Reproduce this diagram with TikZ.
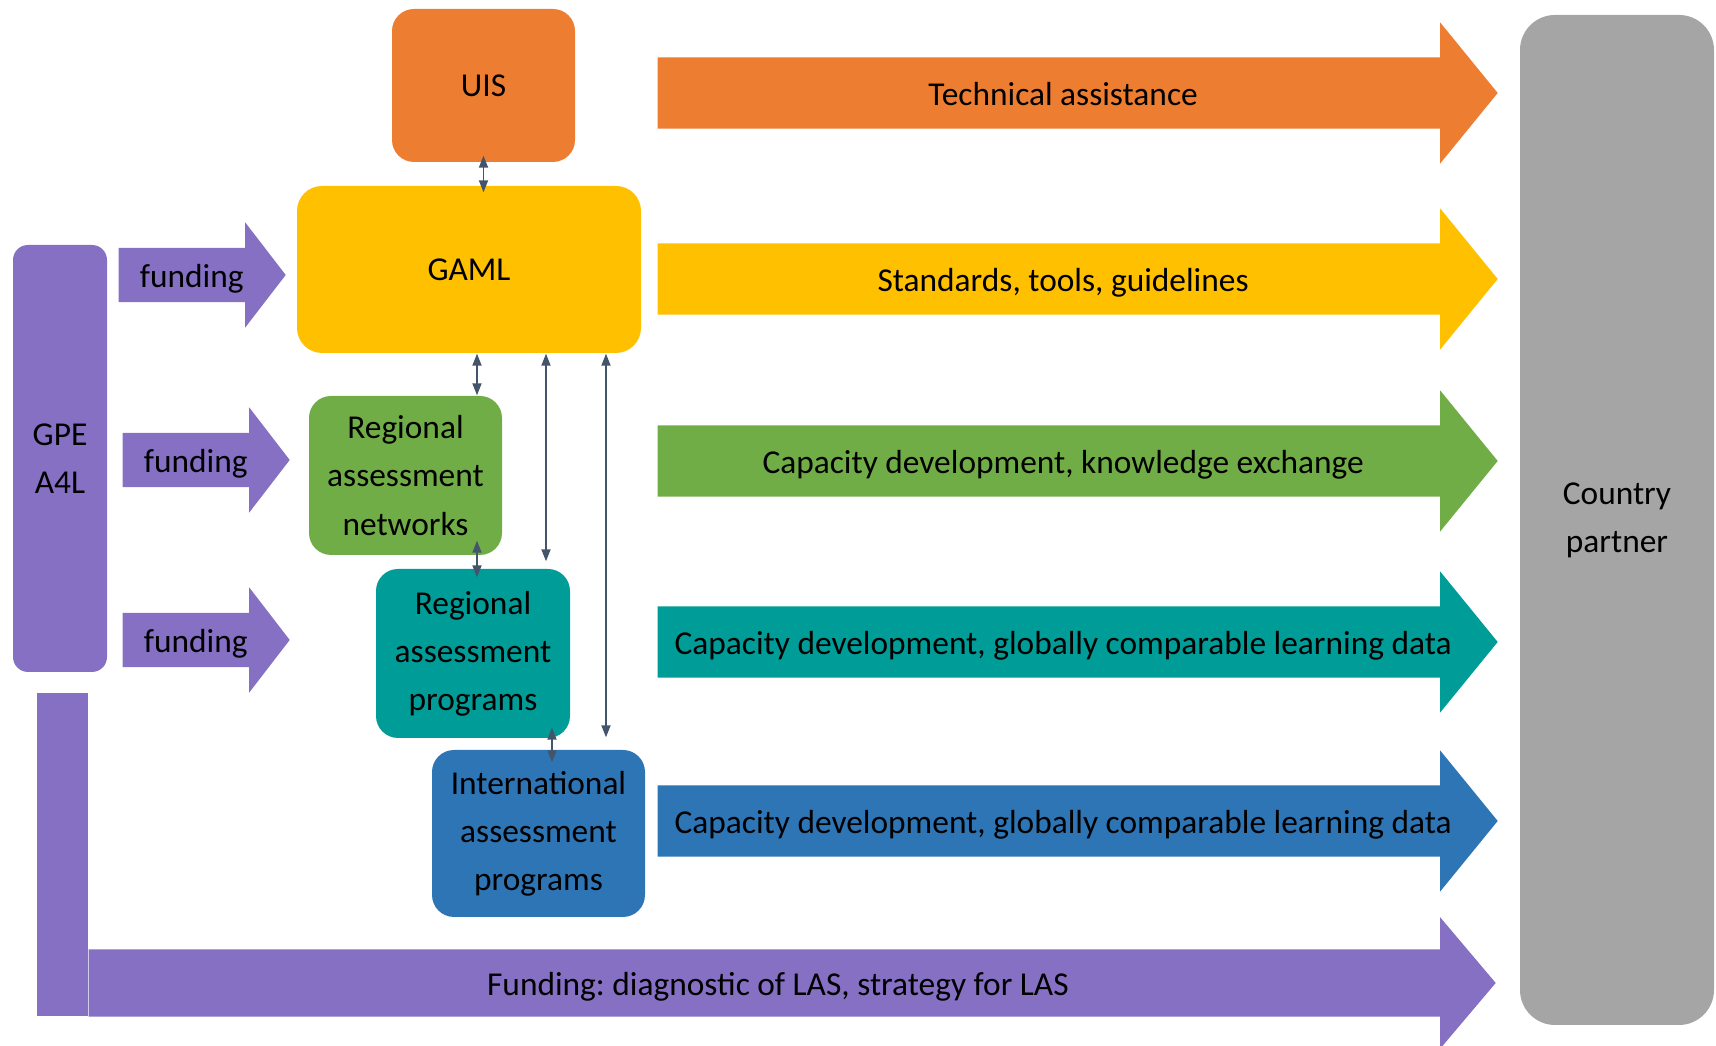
\documentclass[tikz,border=0pt]{standalone}
\usepackage{fontspec}
\setmainfont{Carlito}
\usepackage{tikz}
\usetikzlibrary{shapes.arrows, arrows.meta}
\frenchspacing

\definecolor{uisorange}{HTML}{ED7D31}
\definecolor{gamlgold}{HTML}{FFC000}
\definecolor{rangreen}{HTML}{70AD47}
\definecolor{rapteal}{HTML}{009C97}
\definecolor{iapblue}{HTML}{2E75B6}
\definecolor{gpepurple}{HTML}{8670C4}
\definecolor{partnergray}{HTML}{A5A5A5}
\definecolor{linkgray}{HTML}{44546A}

\begin{document}
\begin{tikzpicture}[every node/.style={font=\fontsize{9.5}{13.7}\selectfont},
        box/.style={rectangle, rounded corners=0.22cm, align=center, inner sep=0pt},
        flow/.style={single arrow, anchor=tail, text height=0.29cm, text depth=0.03cm, inner ysep=0.19cm, inner xsep=0pt, minimum width=1.40cm, minimum height=8.40cm, single arrow head extend=0.35cm, single arrow tip angle=101.6},
        fund/.style={single arrow, anchor=tail, fill=gpepurple, text height=0.29cm, text depth=0.03cm, inner ysep=0.105cm, inner xsep=0pt, minimum width=1.04cm, minimum height=1.67cm, single arrow head extend=0.255cm, single arrow tip angle=104.8},
        link/.style={draw=linkgray, line width=0.5pt, {Triangle[length=0.12cm, width=0.09cm]}-{Triangle[length=0.12cm, width=0.09cm]}}]
        \useasboundingbox (0,0) rectangle (17.16,10.46);

        % actors
        \node[box, fill=uisorange, minimum width=1.83cm, minimum height=1.53cm] (uis) at (4.835,9.605) {UIS};
        \node[box, fill=gamlgold, rounded corners=0.25cm, minimum width=3.44cm, minimum height=1.67cm] (gaml) at (4.69,7.765) {GAML};
        \node[box, fill=rangreen, minimum width=1.93cm, minimum height=1.59cm] (ran) at (4.055,5.705) {Regional\\assessment\\networks};
        \node[box, fill=rapteal, minimum width=1.94cm, minimum height=1.69cm] (rap) at (4.73,3.925) {Regional\\assessment\\programs};
        \node[box, fill=iapblue, minimum width=2.13cm, minimum height=1.67cm] (iap) at (5.385,2.125) {International\\assessment\\programs};
        \node[box, fill=gpepurple, rounded corners=0.15cm, minimum width=0.94cm, minimum height=4.27cm] (gpe) at (0.60,5.875) {GPE\\A4L};
        \node[box, fill=partnergray, rounded corners=0.35cm, minimum width=1.94cm, minimum height=10.10cm] (partner) at (16.17,5.26) {Country\\partner};

        % funding from GPE
        \node[fund] (fund1) at (1.18,7.71) {funding};
        \node[fund] (fund2) at (1.22,5.86) {funding};
        \node[fund] (fund3) at (1.22,4.06) {funding};

        % support flowing to the country partner
        \node[flow, fill=uisorange] (tech) at (6.57,9.53) {Technical assistance};
        \node[flow, fill=gamlgold] (tools) at (6.57,7.67) {Standards, tools, guidelines};
        \node[flow, fill=rangreen] (exchange) at (6.57,5.85) {Capacity development, knowledge exchange};
        \node[flow, fill=rapteal] (regdata) at (6.57,4.04) {Capacity development, globally comparable learning data};
        \node[flow, fill=iapblue] (intdata) at (6.57,2.25) {Capacity development, globally comparable learning data};

        \fill[gpepurple] (0.37,3.53) rectangle (0.88,0.30);
        \node[single arrow, anchor=tail, fill=gpepurple, text height=0.29cm, text depth=0.03cm, inner ysep=0.17cm, inner xsep=0pt, minimum width=1.30cm, minimum height=14.07cm, single arrow head extend=0.32cm, single arrow tip angle=99.6] (las) at (0.88,0.63) {Funding: diagnostic of LAS, strategy for LAS};

        % links between the actors
        \draw[link, shorten <=-0.07cm, shorten >=-0.07cm] (uis.south) -- (uis.south |- gaml.north);
        \draw[link] ([xshift=0.08cm]gaml.south) -- ([xshift=0.08cm]gaml.south |- ran.north);
        \draw[link, shorten >=0.07cm] ([xshift=0.77cm]gaml.south) -- ([xshift=0.77cm]gaml.south |- rap.north);
        \draw[link, shorten >=0.12cm] ([xshift=1.37cm]gaml.south) -- ([xshift=1.37cm]gaml.south |- iap.north);
        \draw[link, shorten <=-0.15cm, shorten >=-0.09cm] ([xshift=0.715cm]ran.south) -- ([xshift=0.715cm]ran.south |- rap.north);
        \draw[link, shorten <=-0.11cm, shorten >=-0.13cm] ([xshift=0.79cm]rap.south) -- ([xshift=0.79cm]rap.south |- iap.north);
    \end{tikzpicture}
\end{document}
